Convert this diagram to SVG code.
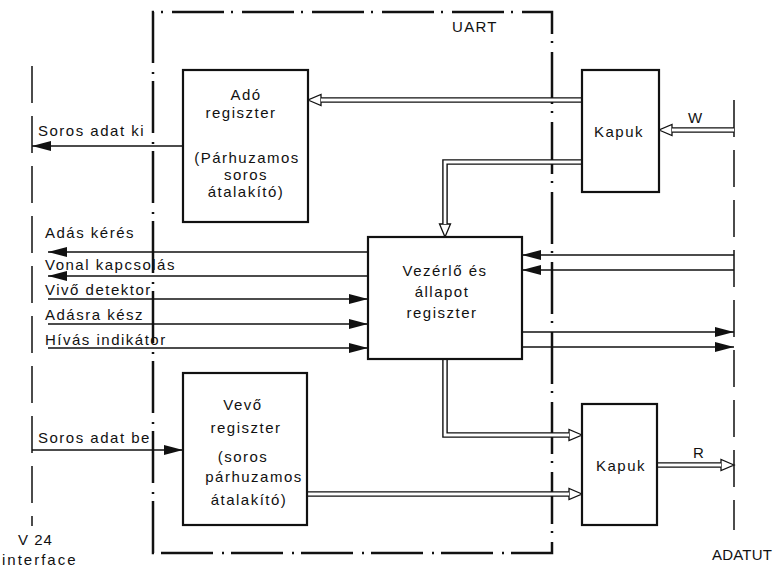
<svg xmlns="http://www.w3.org/2000/svg" width="776" height="568" viewBox="0 0 776 568">
<style>
  text { font-family: "Liberation Sans", Arial, sans-serif; font-size: 15px; fill: #111; letter-spacing: 1.5px; }
  .c { text-anchor: middle; }
  .box { fill: #fff; stroke: #111; stroke-width: 2.2; }
  .sig { fill: none; stroke: #111; stroke-width: 1.4; }
  .dblo { fill: none; stroke: #111; stroke-width: 5.6; stroke-linejoin: miter; }
  .dbli { fill: none; stroke: #fff; stroke-width: 2.8; stroke-linejoin: miter; }
  .uart { fill: none; stroke: #111; stroke-width: 2.5; stroke-dasharray: 52 7 2 9; }
  .iface { fill: none; stroke: #111; stroke-width: 1.5; stroke-dasharray: 37 13; }
</style>
<defs>
  <marker id="fa" markerUnits="userSpaceOnUse" orient="auto" refX="0" refY="0" markerWidth="20" markerHeight="12" overflow="visible">
    <path d="M0,0 L-19,-5 L-19,5 Z" fill="#111"/>
  </marker>
  <marker id="ha" markerUnits="userSpaceOnUse" orient="auto" refX="0" refY="0" markerWidth="14" markerHeight="12" overflow="visible">
    <path d="M13,0 L0,-5.5 L0,5.5 Z" fill="#fff" stroke="#111" stroke-width="1.3"/>
  </marker>
</defs>
<rect width="776" height="568" fill="#fff"/>

<g id="frames">
  <path class="uart" d="M153,553 V12 H552 V553 Z"/>
  <line class="iface" x1="32" y1="66" x2="32" y2="526"/>
  <line class="iface" x1="734" y1="100" x2="734" y2="530"/>
  <text x="452" y="32" style="letter-spacing:1.3px">UART</text>
  <text x="18" y="545" style="letter-spacing:1px">V 24</text>
  <text x="2" y="565" style="letter-spacing:2px">interface</text>
  <text x="712" y="560" style="letter-spacing:0.2px">ADATUT</text>
</g>

<g id="connectors">
  <!-- double-line buses -->
  <path class="dblo" d="M582,100 H321" marker-end="url(#ha)"/>
  <path class="dbli" d="M582,100 H321"/>
  <path class="dblo" d="M734,130 H672" marker-end="url(#ha)"/>
  <path class="dbli" d="M734,130 H672"/>
  <path class="dblo" d="M582,162 H445 V224" marker-end="url(#ha)"/>
  <path class="dbli" d="M582,162 H445 V224"/>
  <path class="dblo" d="M445,359 V435 H569" marker-end="url(#ha)"/>
  <path class="dbli" d="M445,359 V435 H569"/>
  <path class="dblo" d="M307,494 H569" marker-end="url(#ha)"/>
  <path class="dbli" d="M307,494 H569"/>
  <path class="dblo" d="M657,465 H721" marker-end="url(#ha)"/>
  <path class="dbli" d="M657,465 H721"/>
  <!-- single signal lines -->
  <path class="sig" d="M183,146 H32" marker-end="url(#fa)"/>
  <path class="sig" d="M32,450 H183" marker-end="url(#fa)"/>
  <path class="sig" d="M368,252 H48" marker-end="url(#fa)"/>
  <path class="sig" d="M368,276 H48" marker-end="url(#fa)"/>
  <path class="sig" d="M48,299 H368" marker-end="url(#fa)"/>
  <path class="sig" d="M48,324 H368" marker-end="url(#fa)"/>
  <path class="sig" d="M48,348 H368" marker-end="url(#fa)"/>
  <path class="sig" d="M734,255 H522" marker-end="url(#fa)"/>
  <path class="sig" d="M734,270 H522" marker-end="url(#fa)"/>
  <path class="sig" d="M522,332 H734" marker-end="url(#fa)"/>
  <path class="sig" d="M522,347 H734" marker-end="url(#fa)"/>
  <!-- labels -->
  <text x="38" y="136">Soros adat ki</text>
  <text x="38" y="443">Soros adat be</text>
  <text x="45" y="238">Adás kérés</text>
  <text x="45" y="270">Vonal kapcsolás</text>
  <text x="45" y="295">Vivő detektor</text>
  <text x="45" y="320">Adásra kész</text>
  <text x="45" y="345">Hívás indikátor</text>
  <text x="688" y="123">W</text>
  <text x="693" y="458">R</text>
</g>

<g id="ado">
  <rect class="box" x="183" y="70" width="125" height="152"/>
  <text class="c" x="246" y="100">Adó</text>
  <text class="c" x="241" y="118">regiszter</text>
  <text class="c" x="247" y="163">(Párhuzamos</text>
  <text class="c" x="246" y="180">soros</text>
  <text class="c" x="246" y="197">átalakító)</text>
</g>

<g id="kapuk-w">
  <rect class="box" x="582" y="70" width="77" height="122"/>
  <text class="c" x="619" y="137">Kapuk</text>
</g>

<g id="vezerlo">
  <rect class="box" x="368" y="237" width="154" height="122"/>
  <text class="c" x="445" y="276">Vezérlő és</text>
  <text class="c" x="442" y="297">állapot</text>
  <text class="c" x="442" y="318">regiszter</text>
</g>

<g id="vevo">
  <rect class="box" x="183" y="373" width="124" height="152"/>
  <text class="c" x="243" y="410">Vevő</text>
  <text class="c" x="246" y="433">regiszter</text>
  <text class="c" x="243" y="462">(soros</text>
  <text class="c" x="254" y="482">párhuzamos</text>
  <text class="c" x="249" y="505">átalakító)</text>
</g>

<g id="kapuk-r">
  <rect class="box" x="582" y="404" width="75" height="121"/>
  <text class="c" x="621" y="471">Kapuk</text>
</g>
</svg>
